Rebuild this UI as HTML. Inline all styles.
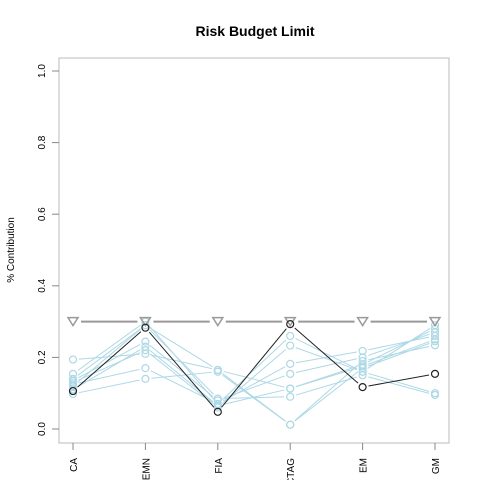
<!DOCTYPE html>
<html><head><meta charset="utf-8"><style>
body{margin:0;background:#fff;}
svg text{font-family:"Liberation Sans",Arial,sans-serif;}
</style></head><body>
<svg width="480" height="480">
<text x="255" y="36" text-anchor="middle" font-size="14" font-weight="bold">Risk Budget Limit</text>
<text transform="translate(14,250) rotate(-90)" text-anchor="middle" font-size="10">% Contribution</text>
<rect x="59" y="58" width="390" height="385" fill="none" stroke="#bbb" stroke-width="1"/>
<g id="axes"></g>
<g id="marks"></g>
</svg>
<script>
const categories=["CA","EMN","FIA","CTAG","EM","GM"];
const yTicks=[0,0.2,0.4,0.6,0.8,1.0];
const yTickLabels=["0.0","0.2","0.4","0.6","0.8","1.0"];
const limits=[0.3,0.3,0.3,0.3,0.3,0.3];
const selected=[0.106,0.283,0.048,0.293,0.117,0.154];
const s1=[0.194,0.21,0.165,0.113,0.18,0.28];
const s2=[0.154,0.30,0.07,0.26,0.16,0.29];
const s3=[0.14,0.29,0.165,0.012,0.17,0.245];
const s4=[0.135,0.244,0.08,0.154,0.20,0.27];
const s5=[0.13,0.22,0.06,0.233,0.16,0.10];
const s6=[0.125,0.17,0.07,0.182,0.218,0.26];
const s7=[0.12,0.29,0.085,0.09,0.15,0.095];
const s8=[0.098,0.14,0.16,0.012,0.19,0.234];
const s9=[0.11,0.23,0.065,0.113,0.175,0.25];
const others=[s1,s2,s3,s4,s5,s6,s7,s8,s9];
const NS="http://www.w3.org/2000/svg";
function x(i){return 73+i*72.4;}
function y(v){return 429-v*358;}
function mk(tag,attrs,parent){const e=document.createElementNS(NS,tag);for(const k in attrs)e.setAttribute(k,attrs[k]);parent.appendChild(e);return e;}
const ax=document.getElementById('axes'),mg=document.getElementById('marks');
yTicks.forEach((t,i)=>{
 const l=mk('line',{x1:52,x2:59,y1:y(t),y2:y(t),stroke:'#888'},ax);
 
 
 const tx=mk('text',{transform:`translate(45,${y(t)}) rotate(-90)`,'text-anchor':'middle','font-size':'10'},ax);
 tx.textContent=yTickLabels[i];
 
 
});
categories.forEach((c,i)=>{
 const l=mk('line',{x1:x(i),x2:x(i),y1:443,y2:450,stroke:'#888'},ax);
 
 
 const tx=mk('text',{transform:`translate(${x(i)+4},458) rotate(-90)`,'text-anchor':'end','font-size':'10'},ax);
 tx.textContent=c;
 
 
});
function series(vals,color,name,w){
 const g=mk('g',{},mg);
 
 
 for(let i=0;i<vals.length-1;i++){
  const dx=x(i+1)-x(i),dy=y(vals[i+1])-y(vals[i]),d=Math.hypot(dx,dy),o=6/d;
  mk('line',{x1:x(i)+dx*o,y1:y(vals[i])+dy*o,x2:x(i+1)-dx*o,y2:y(vals[i+1])-dy*o,stroke:color,'stroke-width':w},g);
 }
 vals.forEach((v,i)=>{
  const c=mk('circle',{cx:x(i),cy:y(v),r:3.5,fill:'none',stroke:color,'stroke-width':1.2},g);
  
  
 });
}
others.forEach((s,k)=>series(s,'#add8e6','portfolio-'+(k+1),1));
// limits
const lg=mk('g',{},mg);


for(let i=0;i<limits.length-1;i++){
 mk('line',{x1:x(i)+8,y1:y(limits[i]),x2:x(i+1)-8,y2:y(limits[i+1]),stroke:'#999','stroke-width':2},lg);
}
limits.forEach((v,i)=>{
 const p=mk('path',{d:`M${x(i)-5},${y(v)-4} L${x(i)+5},${y(v)-4} L${x(i)},${y(v)+4} Z`,fill:'none',stroke:'#999','stroke-width':1.5},lg);
 
 
});
series(selected,'#222','selected-portfolio',1);
</script>
</body></html>
